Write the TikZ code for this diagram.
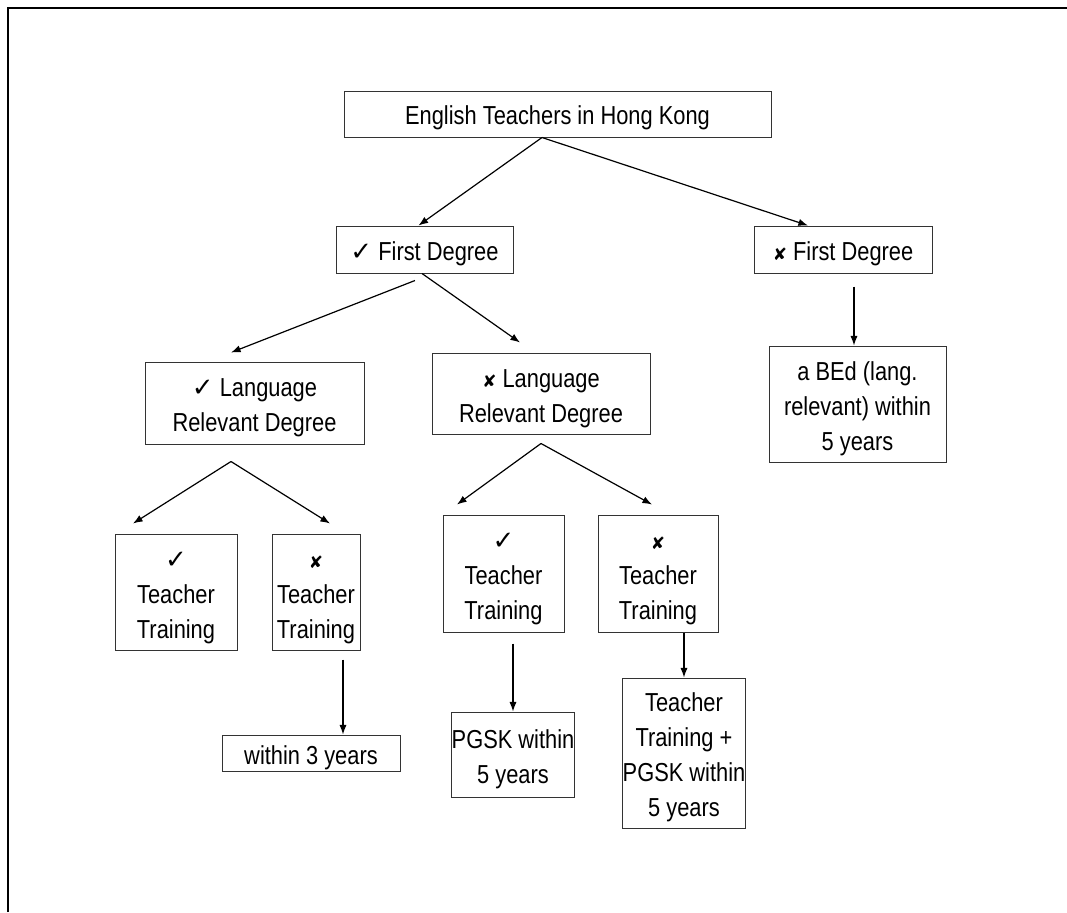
\documentclass[tikz,border=0pt]{standalone}
\usepackage{fontspec}
\setmainfont[FakeStretch=0.84]{Liberation Sans}
\newfontfamily\symfont{DejaVu Sans}
\usetikzlibrary{calc,arrows.meta}
\newcommand{\yes}{{\symfont ✓}}
\newcommand{\no}{{\symfont\fontsize{8.5}{8}\selectfont ✘}}
\newcommand{\fl}{\rule{0pt}{14pt}}

\begin{document}
\begin{tikzpicture}[x=0.5pt,y=-0.5pt,
  box/.style={draw=black!80,line width=0.5pt,align=center,inner sep=0pt,
    font=\fontsize{13}{17.5}\selectfont},
  sz/.style 2 args={minimum width=#1*0.5pt,minimum height=#2*0.5pt},
  arr/.style={-{Latex[length=4.8pt,width=3.6pt]},line width=0.6pt}]
\useasboundingbox (0,0) rectangle (1067,912);
% frame
\draw[line width=1.3pt] (8,912) -- (8,8) -- (1067,8);

\node[box,sz={427}{46}] (root) at (557.5,114) {\rule{0pt}{13.5pt}English Teachers in Hong Kong};
\node[box,sz={177}{47}] (fdyes) at (424.5,249.5) {\fl\yes\ First Degree};
\node[box,sz={178}{47}] (fdno) at (843,249.5) {\fl\no\ First Degree};
\node[box,sz={177}{116}] (bed) at (857.5,404) {\fl a BEd (lang.\\relevant) within\\5 years};
\node[box,sz={219}{82}] (lrdyes) at (254.5,403) {\fl\yes\ Language\\Relevant Degree};
\node[box,sz={218}{81}] (lrdno) at (541,393.5) {\fl\no\ Language\\Relevant Degree};
\node[box,sz={122}{116}] (ttyes) at (176,592) {\fl\yes\\Teacher\\Training};
\node[box,sz={88}{116}] (ttno) at (316,592) {\fl\no\\Teacher\\Training};
\node[box,sz={178}{36}] (within) at (311,753) {\fl within 3 years};
\node[box,sz={121}{117}] (ttyesb) at (503.5,573.5) {\fl\yes\\Teacher\\Training};
\node[box,sz={120}{117}] (ttnob) at (658,573.5) {\fl\no\\Teacher\\Training};
\node[box,sz={120}{85}] (pgsk) at (513,754.5) {\fl PGSK within\\5 years};
\node[box,sz={118}{150}] (ttpgsk) at (684,753) {\fl Teacher\\Training +\\PGSK within\\5 years};

% forks
\coordinate (rootfork) at ($(root.south)+(-15.5,0)$);
\coordinate (lrdyesfork) at ($(lrdyes.south)+(-23.5,17)$);
\coordinate (lrdnofork) at ($(lrdno.south)+(0,9)$);

\draw[arr] (rootfork) -- ($(fdyes.north)+(-6,0)$);
\draw[arr] (rootfork) -- ($(fdno.north)+(-35,0)$);
\draw[arr] ($(fdno.south)+(11,13)$) -- ($(bed.north)+(-3.5,0)$);

\draw[arr] ($(fdyes.south)+(-9.5,7)$) -- ($(lrdyes.north)+(-23.5,-9)$);
\draw[arr] ($(fdyes.south)+(-2.5,0)$) -- ($(lrdno.north)+(-21,-10)$);

\draw[arr] (lrdyesfork) -- ($(ttyes.north)+(-43,-10)$);
\draw[arr] (lrdyesfork) -- ($(ttno.north)+(14,-10)$);
\draw[arr] (lrdnofork) -- ($(ttyesb.north)+(-46.5,-10)$);
\draw[arr] (lrdnofork) -- ($(ttnob.north)+(-6,-10)$);

\draw[arr] ($(ttno.south)+(27,9)$) -- ($(within.north)+(32,0)$);
\draw[arr] ($(ttyesb.south)+(9.5,11)$) -- (pgsk.north);
\draw[arr] ($(ttnob.south)+(26,0)$) -- (ttpgsk.north);
\end{tikzpicture}
\end{document}
